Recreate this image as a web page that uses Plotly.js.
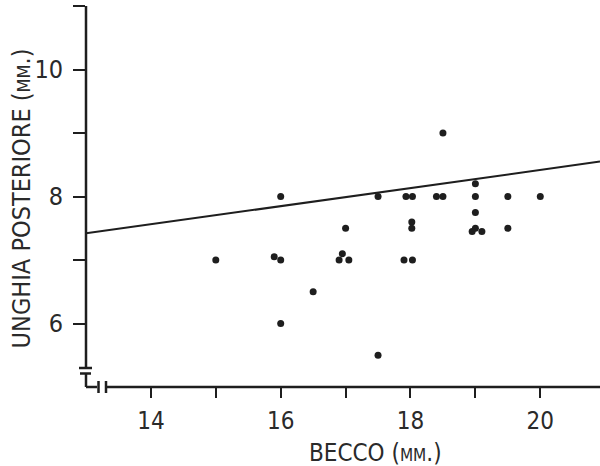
<!DOCTYPE html>
<html>
<head>
<meta charset="utf-8">
<script src="https://cdn.plot.ly/plotly-3.0.1.min.js"></script>
<style>html,body{margin:0;padding:0;background:#fff;}#chart{width:600px;height:466px;}</style>
</head>
<body>
<div id="chart"></div>
<script>
// Data
const becco = [15, 15.9, 16, 16, 16, 16.5, 16.95, 16.9, 17.05, 17, 17.5, 17.5,
  17.93, 18.03, 18.4, 18.5, 18.5, 18.02, 18.02, 17.9, 18.03,
  19, 19, 19, 18.95, 19, 19.1, 19.5, 19.5, 20];
const unghia = [7, 7.05, 7, 8, 6, 6.5, 7.1, 7, 7, 7.5, 8, 5.5,
  8, 8, 8, 8, 9, 7.6, 7.5, 7, 7,
  8.2, 8, 7.75, 7.45, 7.5, 7.45, 8, 7.5, 8];
const lineX = [13, 20.92];
const lineY = [7.42, 8.55];
const xTickVals = [14, 15, 16, 17, 18, 19, 20];
const xTickText = ['14', '', '16', '', '18', '', '20'];
const yTickVals = [6, 7, 8, 9, 10, 11];
const yTickText = ['6', '', '8', '', '10', ''];

const FONT = 'DejaVu Sans Condensed, Liberation Sans Narrow, sans-serif';
const INK = '#1e1e1e';
const TXT = '#2a2a2a';

const traces = [
  {x: lineX, y: lineY, mode: 'lines', type: 'scatter',
   line: {color: INK, width: 2}, hoverinfo: 'skip'},
  {x: becco, y: unghia, mode: 'markers', type: 'scatter',
   marker: {color: INK, size: 7}}
];

function seg(x0, y0, x1, y1) {
  return {type: 'line', xref: 'paper', yref: 'paper',
    xsizemode: 'pixel', ysizemode: 'pixel', xanchor: 0, yanchor: 0,
    x0: x0, y0: y0, x1: x1, y1: y1,
    line: {color: INK, width: 2.5}};
}

const layout = {
  width: 600, height: 466,
  margin: {l: 86, r: 0, t: 6, b: 79},
  paper_bgcolor: '#fff', plot_bgcolor: '#fff',
  showlegend: false,
  font: {family: FONT, color: TXT, size: 24},
  xaxis: {
    range: [13, 20.92], showgrid: false, zeroline: false, showline: false,
    tickmode: 'array', tickvals: xTickVals, ticktext: xTickText,
    ticks: 'outside', ticklen: 10, tickwidth: 2, tickcolor: INK,
    ticklabelstandoff: 2,
    tickfont: {family: FONT, size: 24, color: TXT}
  },
  yaxis: {
    range: [5, 11], showgrid: false, zeroline: false, showline: false,
    tickmode: 'array', tickvals: yTickVals, ticktext: yTickText,
    ticks: 'outside', ticklen: 12, tickwidth: 2, tickcolor: INK,
    ticklabelstandoff: 5,
    tickfont: {family: FONT, size: 25, color: TXT}
  },
  shapes: [
    seg(0, 19, 0, 381),     // y axis line
    seg(-7, 19, 6, 19),     // break top tick
    seg(-6, 13.5, 5, 13.5), // break lower tick
    seg(0, 13.5, 0, 0),     // short y piece
    seg(0, 0, 11, 0),       // short x piece
    seg(12.5, -6, 12.5, 6), // x break mark
    seg(20, -6, 20, 6),     // x break mark
    seg(20, 0, 520, 0)      // x axis line
  ],
  annotations: [
    {text: 'BECCO (<span style="font-size:17px">MM</span>.)', xref: 'paper', yref: 'paper',
     x: 0.564, y: 0, yshift: -66, xanchor: 'center', yanchor: 'middle', showarrow: false,
     font: {family: FONT, size: 24, color: TXT}},
    {text: 'UNGHIA POSTERIORE (<span style="font-size:18px">MM</span>.)', xref: 'paper', yref: 'paper',
     x: 0, xshift: -65, y: 0.495, xanchor: 'center', yanchor: 'middle', textangle: -90,
     showarrow: false, font: {family: FONT, size: 25, color: TXT}}
  ]
};

Plotly.newPlot('chart', traces, layout, {displayModeBar: false, staticPlot: true});
</script>
</body>
</html>
